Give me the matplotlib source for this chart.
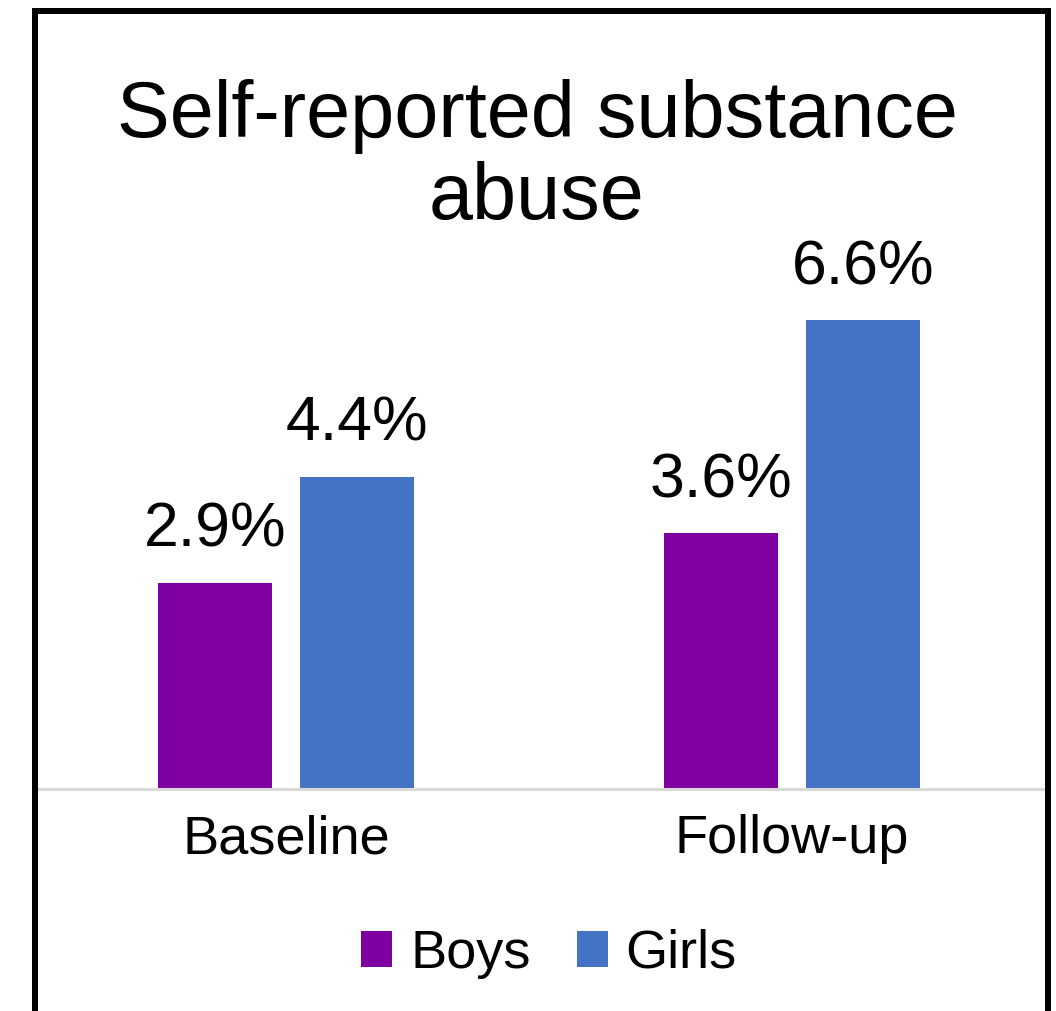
import matplotlib.pyplot as plt
from matplotlib.patches import Patch, Rectangle
import numpy as np

plt.rcParams['font.family'] = ['Liberation Sans', 'DejaVu Sans']

# ---- data ----
categories = ['Baseline', 'Follow-up']
boys = [2.9, 3.6]
girls = [4.4, 6.6]
series_names = ['Boys', 'Girls']
colors = ['#7F00A0', '#4472C4']

W, H = 1056, 1011
fig = plt.figure(figsize=(W / 100, H / 100), dpi=100)

# axes area in pixels: x 33..1045, baseline at y=789
ax = fig.add_axes([33 / W, 1 - 789 / H, 1012 / W, 532.5 / H])

x = np.arange(len(categories))
bw = 0.225
off = 0.1405
b1 = ax.bar(x - off, boys, bw, color=colors[0])
b2 = ax.bar(x + off, girls, bw, color=colors[1])

for bars in (b1, b2):
    for rect in bars:
        v = rect.get_height()
        ax.annotate(f'{v:.1f}%', (rect.get_x() + rect.get_width() / 2, v),
                    xytext=(0, 26), textcoords='offset points',
                    ha='center', va='baseline', fontsize=45)

ax.set_xlim(-0.5, 1.5)
ax.set_ylim(0, 7.5)
ax.set_xticks(x)
ax.set_xticklabels(categories, fontsize=39)
ax.tick_params(axis='x', length=0, pad=18)
ax.set_yticks([])
for s in ['top', 'left', 'right']:
    ax.spines[s].set_visible(False)
ax.spines['bottom'].set_color('#D9D9D9')
ax.spines['bottom'].set_linewidth(2.2)

# title (two lines)
fig.text(537 / W, 1 - 137 / H, 'Self-reported substance', ha='center',
         va='baseline', fontsize=57)
fig.text(537 / W, 1 - 219 / H, 'abuse', ha='center', va='baseline', fontsize=57)

# legend
handles = [Patch(facecolor=c, edgecolor='none') for c in colors]
fig.legend(handles, series_names, loc='center', ncol=2, frameon=False,
           bbox_to_anchor=(549 / W, 1 - 954 / H), fontsize=39,
           handlelength=0.57, handleheight=0.65, handletextpad=0.33,
           columnspacing=0.85)

# outer frame
fig.patches.append(Rectangle((35 / W, 1 - 1013 / H), 1013 / W, 1002 / H,
                             transform=fig.transFigure, fill=False,
                             edgecolor='black', linewidth=4.3))

fig.savefig('out.png', dpi=100)
